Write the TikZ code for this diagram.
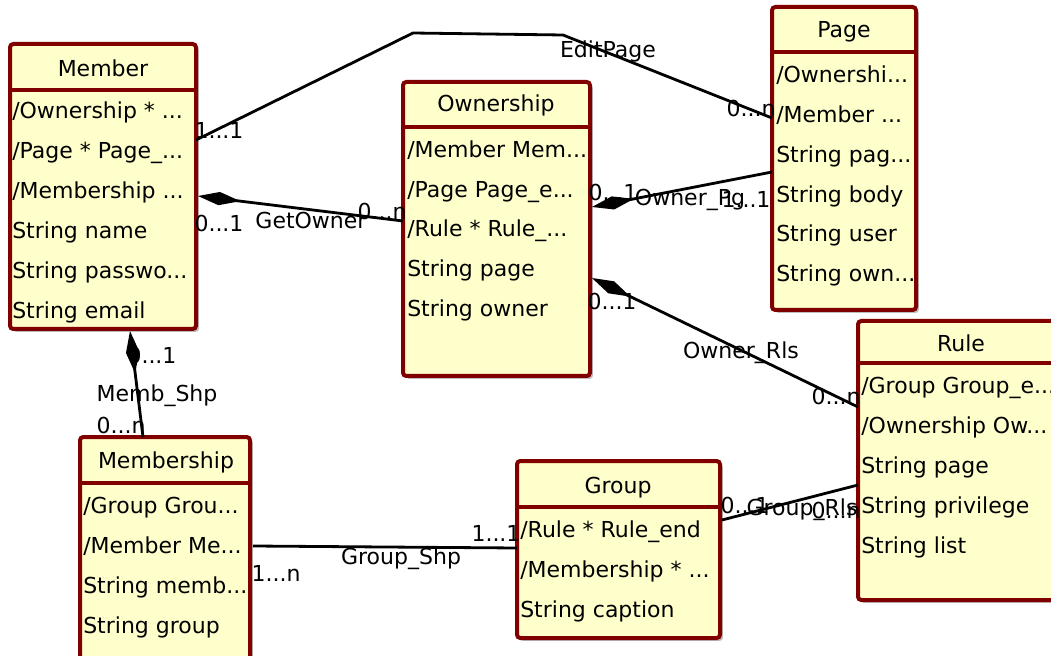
\documentclass[tikz,border=0pt]{standalone}
\usepackage{fontspec}
\setmainfont{DejaVu Sans}
\usetikzlibrary{arrows.meta,calc,shadows}
\definecolor{ClassFill}{HTML}{FFFFCC}
\definecolor{ClassLine}{HTML}{800000}
\definecolor{Shade}{HTML}{BDBDBD}
\tikzset{
  classbox/.style={draw=ClassLine,line width=3pt,fill=ClassFill,rounded corners=2.5pt,anchor=north west,inner sep=0pt,outer sep=0pt,drop shadow={shadow xshift=2.2pt,shadow yshift=-2.2pt,fill=Shade,opacity=1}},
  sepline/.style={draw=ClassLine,line width=3pt},
  classname/.style={anchor=base,inner sep=0pt},
  attrs/.style={anchor=base west,align=left,inner sep=0pt},
  assoc/.style={draw=black,line width=2.1pt},
  owns/.style={assoc,-{Diamond[length=32pt,width=10pt]}},
  lbl/.style={inner sep=0pt,text=black}
}

\begin{document}
\begin{tikzpicture}[x=0.75pt,y=-0.75pt,font=\fontsize{16.5pt}{30pt}\selectfont]
  \useasboundingbox (0,0) rectangle (1051,656);
  \clip (0,0) rectangle (1051,656);
  % class boxes (attrs anchored at the baseline of their last line)
  \node[classbox,minimum width=139.5pt,minimum height=213.75pt] (member) at (10,44) {};
  \draw[sepline] (10,90) -- (196,90);
  \node[classname] (memberT) at (103,77) {Member};
  \node[attrs] (memberA) at (12,319) {/Ownership * ...\\/Page * Page\_...\\/Membership ...\\String name\\String passwo...\\String email};

  \node[classbox,minimum width=140.25pt,minimum height=220.5pt] (own) at (403,82) {};
  \draw[sepline] (403,127) -- (590,127);
  \node[classname] (ownT) at (496,112) {Ownership};
  \node[attrs] (ownA) at (407,317) {/Member Mem...\\/Page Page\_e...\\/Rule * Rule\_...\\String page\\String owner};

  \node[classbox,minimum width=108pt,minimum height=227.25pt] (page) at (772,7) {};
  \draw[sepline] (772,52) -- (916,52);
  \node[classname] (pageT) at (844,38) {Page};
  \node[attrs] (pageA) at (776,282) {/Ownershi...\\/Member ...\\String pag...\\String body\\String user\\String own...};

  \node[classbox,minimum width=154.5pt,minimum height=209.25pt] (rule) at (858,321) {};
  \draw[sepline] (858,363) -- (1064,363);
  \node[classname] (ruleT) at (961,352) {Rule};
  \node[attrs] (ruleA) at (861,553) {/Group Group\_e...\\/Ownership Ow...\\String page\\String privilege\\String list};

  \node[classbox,minimum width=127.5pt,minimum height=182.25pt] (mship) at (80,437) {};
  \draw[sepline] (80,483) -- (250,483);
  \node[classname] (mshipT) at (166,468) {Membership};
  \node[attrs] (mshipA) at (83,633) {/Group Grou...\\/Member Me...\\String memb...\\String group};

  \node[classbox,minimum width=152.25pt,minimum height=132.75pt] (group) at (517,461) {};
  \draw[sepline] (517,507) -- (720,507);
  \node[classname] (groupT) at (618,493) {Group};
  \node[attrs] (groupA) at (520,617) {/Rule * Rule\_end\\/Membership * ...\\String caption};

  % associations
  \draw[assoc] ($(member.north east)+(0,96)$) -- (413,33) -- (563,35) -- ($(page.north west)+(0,111)$);
  \draw[owns] ($(own.north west)+(0,139)$) -- ($(member.north east)+(2,152)$);
  \draw[owns] ($(page.north west)+(0,165)$) -- ($(own.north east)+(2,125)$);
  \draw[owns] ($(rule.north west)+(0,86)$) -- ($(own.north east)+(2,196)$);
  \draw[owns] ($(mship.north west)+(63,0)$) -- ($(member.south west)+(120,2)$);
  \draw[assoc] ($(mship.north east)+(3,109)$) -- ($(group.north west)+(0,87)$);
  \draw[assoc] ($(group.north east)+(2,59)$) -- ($(rule.north west)+(0,164)$);

  % labels
  \node[lbl] (editM) at (219,130) {1...1};
  \node[lbl] (editN) at (608,51) {EditPage};
  \node[lbl] (editP) at (751,108) {0...n};
  \node[lbl] (getM) at (219,223) {0...1};
  \node[lbl] (getN) at (311,220) {GetOwner};
  \node[lbl] (getO) at (382,211) {0...n};
  \node[lbl] (pgO) at (613,192) {0...1};
  \node[lbl] (pgN) at (690,200) {Owner\_Pg};
  \node[lbl] (pgP) at (746,199) {1...1};
  \node[lbl] (rlsO) at (612,301) {0...1};
  \node[lbl] (rlsN) at (741,353) {Owner\_Rls};
  \node[lbl] (rlsR) at (836,396) {0...n};
  \node[lbl] (shpM) at (152,355) {0...1};
  \node[lbl] (shpN) at (157,396) {Memb\_Shp};
  \node[lbl] (shpS) at (121,425) {0...n};
  \node[lbl] (gshS) at (276,573) {1...n};
  \node[lbl] (gshN) at (401,559) {Group\_Shp};
  \node[lbl] (gshG) at (496,533) {1...1};
  \node[lbl] (grlG) at (745,505) {0...1};
  \node[lbl] (grlN) at (802,510) {Group\_Rls};
  \node[lbl] (grlR) at (836,510) {0...n};
\end{tikzpicture}
\end{document}
